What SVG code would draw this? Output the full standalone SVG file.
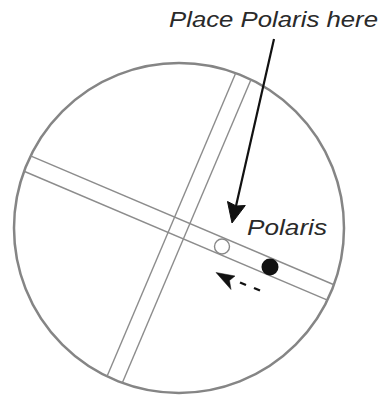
<svg xmlns="http://www.w3.org/2000/svg" width="383" height="402" viewBox="0 0 383 402">
<style>
.scope{fill:none;stroke:#858585;stroke-width:2.5}
.hair{stroke:#8c8c8c;stroke-width:1.4;fill:none}
.lbl{font-family:"Liberation Sans",Arial,sans-serif;font-style:italic;font-size:22px;fill:#2a2a2a}
.blk{stroke:#111;fill:#111}
</style>
<rect width="383" height="402" fill="#fff"/>
<g id="scope">
<circle class="scope" cx="179" cy="228" r="165"/>
</g>
<g id="crosshair" transform="translate(179 228) rotate(23)">
<line class="hair" x1="-164.8" y1="-8.3" x2="164.8" y2="-8.3"/>
<line class="hair" x1="-164.8" y1="8.3" x2="164.8" y2="8.3"/>
<line class="hair" x1="-8.3" y1="-164.8" x2="-8.3" y2="164.8"/>
<line class="hair" x1="8.3" y1="-164.8" x2="8.3" y2="164.8"/>
</g>
<g id="target">
<circle cx="222" cy="246.5" r="7.5" fill="#fff" stroke="#888" stroke-width="1.4"/>
</g>
<g id="polaris-star">
<circle cx="270" cy="267" r="8.5" fill="#111"/>
</g>
<g id="label-here">
<text class="lbl" x="169" y="27" textLength="209" lengthAdjust="spacingAndGlyphs">Place Polaris here</text>
</g>
<g id="label-polaris">
<text class="lbl" x="247" y="235" textLength="80" lengthAdjust="spacingAndGlyphs">Polaris</text>
</g>
<g id="connectors">
<line x1="274" y1="39" x2="236" y2="206" stroke="#111" stroke-width="2.2"/>
<polygon class="blk" points="232,223 227.5,201.5 236.3,206 245.3,205.5"/>
<polygon class="blk" stroke-width="0.5" points="216,272.5 235,276 229.5,280.5 231,289.5"/>
<line x1="240" y1="282.5" x2="246" y2="285" stroke="#111" stroke-width="2.4"/>
<line x1="254" y1="288" x2="260" y2="290.5" stroke="#111" stroke-width="2.4"/>
</g>
</svg>
